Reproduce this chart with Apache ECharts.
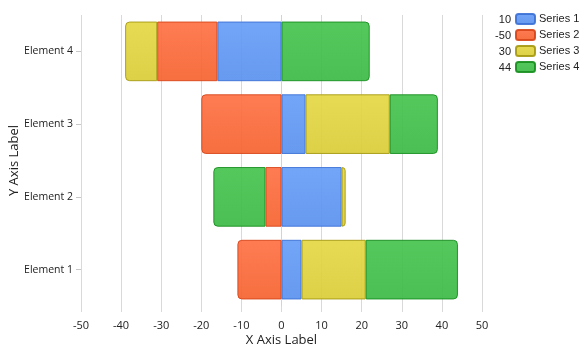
<!DOCTYPE html>
<html>
<head>
<meta charset="utf-8">
<script src="https://cdn.jsdelivr.net/npm/echarts@6/dist/echarts.min.js"></script>
<style>
  html, body { margin: 0; padding: 0; background: #fff; }
  #chart { width: 585px; height: 353px; }
</style>
</head>
<body>
<div id="chart"></div>
<script>
const categories = ['Element 1', 'Element 2', 'Element 3', 'Element 4']
const seriesNames = ['Series 1', 'Series 2', 'Series 3', 'Series 4']
const legendValues = [10, -50, 30, 44]
const series1 = [5, 15, 6, -16]
const series2 = [-11, -4, -20, -15]
const series3 = [16, 1, 21, -8]
const series4 = [23, -13, 12, 22]
const xTicks = [-50, 50, 10]

const seriesData = [series1, series2, series3, series4]
const fills = [
  ['#679ef7', '#5a92ef', '#3d72d6'],
  ['#ff7044', '#f5632f', '#d8461a'],
  ['#e4d844', '#dacd38', '#a79a12'],
  ['#47c44f', '#3cba45', '#198f21']
]

// find which series sits at the outer end of each bar, for rounding
const R = 4
function radiusFor(si, ci) {
  const v = seriesData[si][ci]
  let last = -1
  for (let k = 0; k < seriesData.length; k++) {
    const w = seriesData[k][ci]
    if ((v >= 0 && w > 0) || (v < 0 && w < 0)) last = k
  }
  if (last !== si) return 0
  return v >= 0 ? [0, R, R, 0] : [R, 0, 0, R]
}

const chart = echarts.init(document.getElementById('chart'))

const series = seriesData.map((data, si) => ({
  name: seriesNames[si],
  type: 'bar',
  stack: 'total',
  barCategoryGap: '18%',
  data: data.map((v, ci) => ({
    value: v,
    itemStyle: { borderRadius: radiusFor(si, ci) }
  })),
  itemStyle: {
    color: new echarts.graphic.LinearGradient(0, 0, 0, 1, [
      { offset: 0, color: fills[si][0] },
      { offset: 1, color: fills[si][1] }
    ]),
    borderColor: fills[si][2],
    borderWidth: 1,
    opacity: 0.92
  },
  emphasis: { disabled: true }
}))

const gridColors = []
for (let t = xTicks[0]; t <= xTicks[1]; t += xTicks[2]) {
  gridColors.push(t === 0 ? '#f6c4c4' : '#d9d9d9')
}

const legendGraphics = legendValues.map((v, i) => ({
  type: 'text',
  right: 74,
  top: 14 + i * 16,
  style: {
    text: String(v),
    fill: '#222',
    font: '11px "Liberation Sans", Arial, sans-serif',
    textAlign: 'right'
  }
}))

chart.setOption({
  animation: false,
  grid: {
    left: 81,
    right: 103,
    top: 15,
    bottom: 47,
    containLabel: false,
    outerBoundsMode: 'none'
  },
  legend: {
    orient: 'vertical',
    left: 515,
    top: 13,
    padding: 0,
    itemWidth: 19,
    itemHeight: 10,
    itemGap: 4,
    icon: 'roundRect',
    selectedMode: false,
    textStyle: {
      fontFamily: '"Liberation Sans", Arial, sans-serif',
      fontSize: 11,
      color: '#222',
      padding: [0, 0, 0, -1]
    },
    data: seriesNames
  },
  graphic: legendGraphics,
  xAxis: {
    type: 'value',
    min: xTicks[0],
    max: xTicks[1],
    interval: xTicks[2],
    name: 'X Axis Label',
    nameLocation: 'middle',
    nameGap: 28,
    nameMoveOverlap: false,
    nameTextStyle: {
      fontFamily: '"Open Sans", sans-serif',
      fontSize: 13,
      color: '#222'
    },
    axisLine: { show: false },
    axisTick: {
      show: true,
      length: 6,
      lineStyle: { color: '#d9d9d9' }
    },
    axisLabel: {
      margin: 14,
      fontFamily: '"Open Sans", sans-serif',
      fontSize: 11,
      color: '#222'
    },
    splitLine: {
      show: true,
      lineStyle: { color: gridColors, width: 1 }
    }
  },
  yAxis: {
    type: 'category',
    data: categories,
    name: 'Y Axis Label',
    nameLocation: 'middle',
    nameGap: 60,
    nameMoveOverlap: false,
    nameRotate: 90,
    nameTextStyle: {
      fontFamily: '"Open Sans", sans-serif',
      fontSize: 13,
      color: '#222'
    },
    axisLine: { show: false, onZero: false },
    axisTick: {
      show: true,
      alignWithLabel: true,
      length: 5,
      lineStyle: { color: '#c8c8c8' }
    },
    axisLabel: {
      margin: 8,
      fontFamily: '"Open Sans", sans-serif',
      fontSize: 10.5,
      color: '#222'
    }
  },
  series: series
})
</script>
</body>
</html>
